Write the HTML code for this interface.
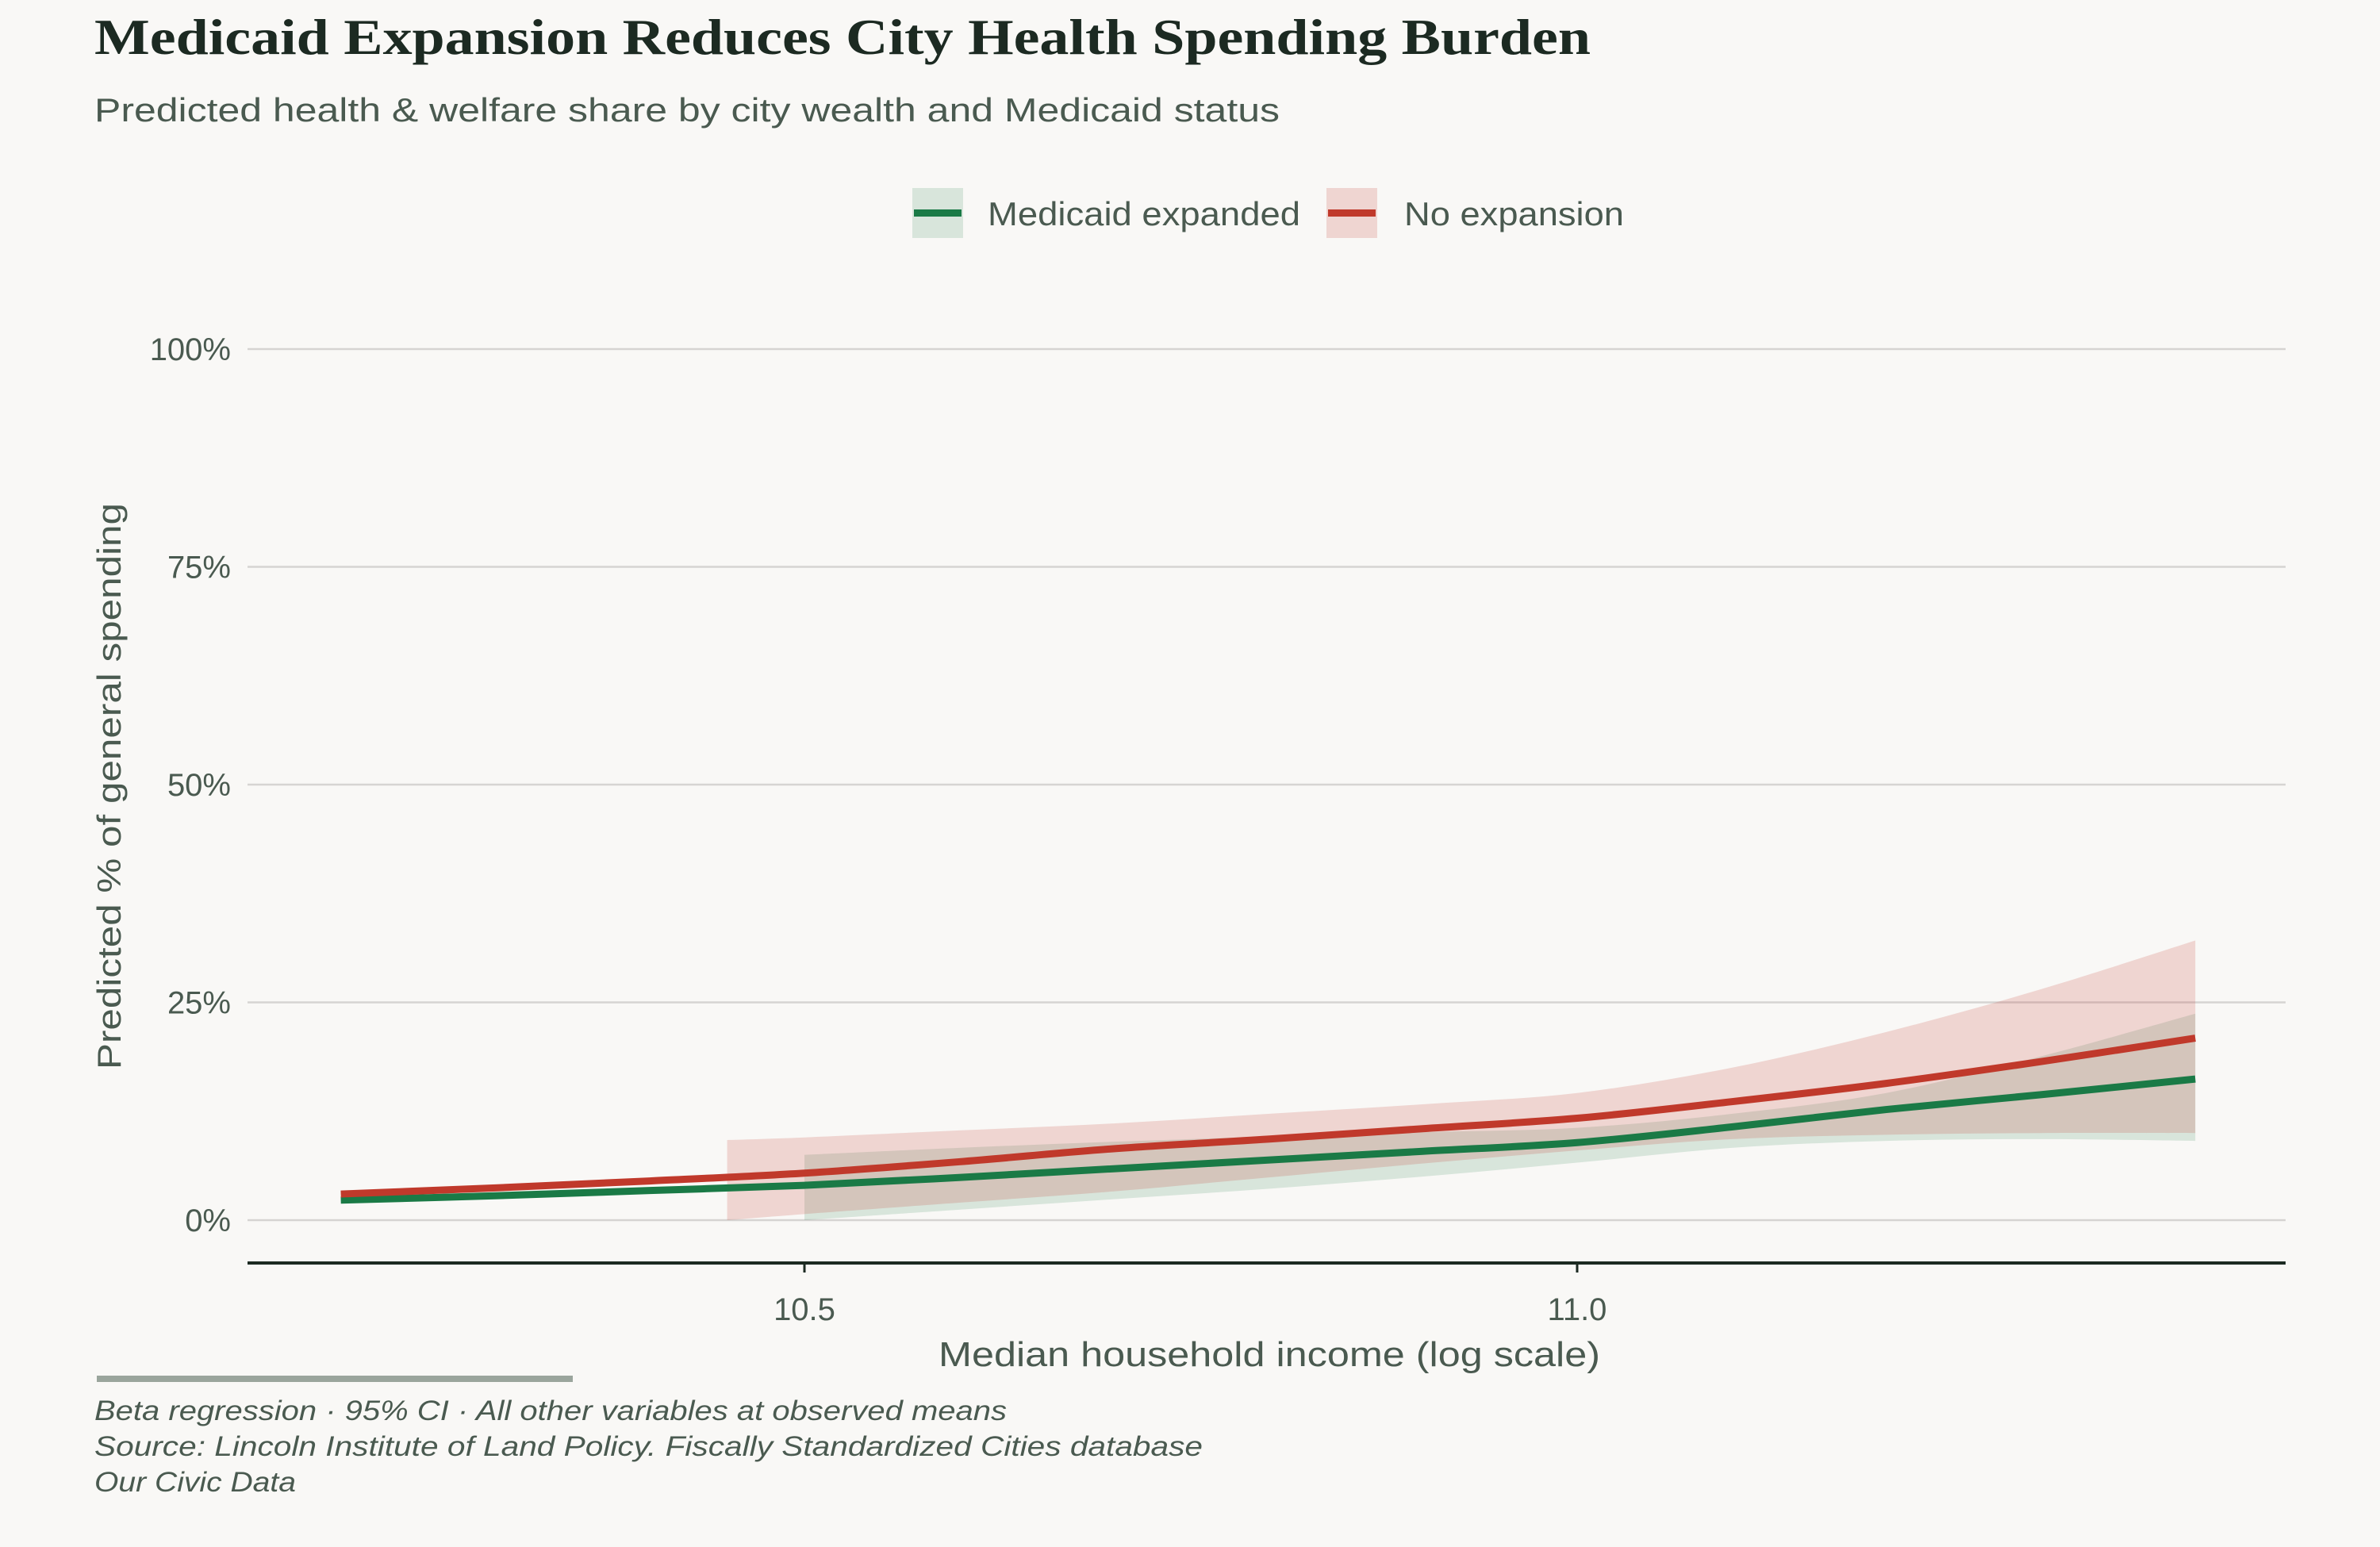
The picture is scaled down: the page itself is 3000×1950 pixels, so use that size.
<!DOCTYPE html>
<html><head><meta charset="utf-8"><style>
body{margin:0;background:#f9f8f6;}
svg{display:block;}
</style></head><body>
<svg width="3000" height="1950" viewBox="0 0 3000 1950" xmlns="http://www.w3.org/2000/svg">
<rect width="3000" height="1950" fill="#f9f8f6"/>
<text x="119" y="68" textLength="1886" lengthAdjust="spacingAndGlyphs" font-family="Liberation Serif, serif" font-weight="bold" font-size="64" fill="#1c2a22">Medicaid Expansion Reduces City Health Spending Burden</text>
<text x="119" y="153" textLength="1494" lengthAdjust="spacingAndGlyphs" font-family="Liberation Sans, sans-serif" font-size="42" fill="#4a5a50">Predicted health &amp; welfare share by city wealth and Medicaid status</text>
<g>
 <g>
  <rect x="1150" y="237" width="64" height="63" fill="#1a7a46" opacity="0.15"/>
  <rect x="1152" y="264" width="60" height="9" fill="#1a7a46"/>
  <text x="1245" y="284" textLength="394" lengthAdjust="spacingAndGlyphs" font-family="Liberation Sans, sans-serif" font-size="42" fill="#4a5a50">Medicaid expanded</text>
 </g>
 <g>
  <rect x="1672" y="237" width="64" height="63" fill="#c0392b" opacity="0.18"/>
  <rect x="1674" y="264" width="60" height="9" fill="#c0392b"/>
  <text x="1770" y="284" textLength="277" lengthAdjust="spacingAndGlyphs" font-family="Liberation Sans, sans-serif" font-size="42" fill="#4a5a50">No expansion</text>
 </g>
</g>
<g id="grid"></g><g id="bands"></g><g id="lines"></g><g id="axes"></g>
<text transform="translate(152,991) rotate(-90)" text-anchor="middle" textLength="714" lengthAdjust="spacingAndGlyphs" font-family="Liberation Sans, sans-serif" font-size="42" fill="#4a5a50">Predicted % of general spending</text>
<text x="1600" y="1722" text-anchor="middle" textLength="834" lengthAdjust="spacingAndGlyphs" font-family="Liberation Sans, sans-serif" font-size="44" fill="#4a5a50">Median household income (log scale)</text>
<rect x="122" y="1734" width="600" height="8" fill="#9aa59c"/>
<g font-family="Liberation Sans, sans-serif" font-style="italic" font-size="35" fill="#4a5a50">
<text x="119" y="1790" textLength="1150" lengthAdjust="spacingAndGlyphs">Beta regression · 95% CI · All other variables at observed means</text>
<text x="119" y="1835" textLength="1397" lengthAdjust="spacingAndGlyphs">Source: Lincoln Institute of Land Policy. Fiscally Standardized Cities database</text>
<text x="119" y="1880" textLength="254" lengthAdjust="spacingAndGlyphs">Our Civic Data</text>
</g>
</svg>
<script>
const yTicks=[0,25,50,75,100];
const yTickLabels=["0%","25%","50%","75%","100%"];
const xTicks=[10.5,11.0];
const xTickLabels=["10.5","11.0"];
const lineX=[10.2,10.3,10.4,10.5,10.6,10.7,10.8,10.9,11.0,11.1,11.2,11.3,11.4];
const redLine=[3.0,3.7,4.5,5.4,6.7,8.2,9.3,10.5,11.7,13.6,15.7,18.2,20.9];
const greenLine=[2.3,2.8,3.4,4.0,4.9,5.9,6.9,7.9,8.9,10.7,12.7,14.4,16.2];
const redBandX=[10.45,10.5,10.6,10.7,10.8,10.9,11.0,11.1,11.2,11.3,11.4];
const redUpper=[9.2,9.5,10.3,11.1,12.2,13.3,14.6,17.5,21.6,26.5,32.1];
const redLower=[0,0.7,2.0,3.3,4.9,6.5,8.0,9.3,9.8,10.0,10.0];
const greenBandX=[10.5,10.6,10.7,10.8,10.9,11.0,11.1,11.2,11.3,11.4];
const greenUpper=[7.5,8.3,9.0,9.6,10.1,10.6,12.2,14.6,18.8,23.7];
const greenLower=[0,1.2,2.4,3.6,5.0,6.6,8.3,9.1,9.3,9.1];

const NS="http://www.w3.org/2000/svg";
const xs=v=>1014+(v-10.5)*1948;
const ys=v=>1538-v*10.98;
function mk(tag,attrs,parent){const e=document.createElementNS(NS,tag);for(const k in attrs)e.setAttribute(k,attrs[k]);parent.appendChild(e);return e;}
const grid=document.getElementById('grid'),bands=document.getElementById('bands'),lines=document.getElementById('lines'),axes=document.getElementById('axes');
yTicks.forEach((t,i)=>{
 const l=mk('line',{x1:312,x2:2881,y1:ys(t),y2:ys(t),stroke:'#d6d4d2','stroke-width':2.5},grid);
 
 
 const tx=mk('text',{x:291,y:ys(t)+14,'text-anchor':'end','font-family':'Liberation Sans, sans-serif','font-size':40,fill:'#4a5a50'},axes);
 tx.textContent=yTickLabels[i];
 
 
});
const ax=mk('line',{x1:312,x2:2881,y1:1592,y2:1592,stroke:'#1c2a22','stroke-width':4},axes);


xTicks.forEach((t,i)=>{
 const tk=mk('line',{x1:xs(t),x2:xs(t),y1:1592,y2:1604,stroke:'#1c2a22','stroke-width':3},axes);
 
 
 const tx=mk('text',{x:xs(t),y:1664,'text-anchor':'middle','font-family':'Liberation Sans, sans-serif','font-size':40,fill:'#4a5a50'},axes);
 tx.textContent=xTickLabels[i];
 
 
});
function smooth(pts){
 let d='M'+pts[0][0]+','+pts[0][1];
 for(let i=0;i<pts.length-1;i++){
  const p0=pts[Math.max(i-1,0)],p1=pts[i],p2=pts[i+1],p3=pts[Math.min(i+2,pts.length-1)];
  const c1=[p1[0]+(p2[0]-p0[0])/6,p1[1]+(p2[1]-p0[1])/6];
  const c2=[p2[0]-(p3[0]-p1[0])/6,p2[1]-(p3[1]-p1[1])/6];
  d+='C'+c1+' '+c2+' '+p2;
 }
 return d;
}
function band(X,U,L,color,op,name){
 const up=X.map((x,i)=>[xs(x),ys(U[i])]);
 const lo=X.map((x,i)=>[xs(x),ys(L[i])]).reverse();
 const d=smooth(up)+'L'+smooth(lo).slice(1)+'Z';
 const p=mk('path',{d:d,fill:color,opacity:op},bands);
 
 
}
band(greenBandX,greenUpper,greenLower,'#1a7a46',0.15,'ci-band-expanded');
band(redBandX,redUpper,redLower,'#c0392b',0.18,'ci-band-no-expansion');
function line(X,Y,color,name){
 const p=mk('path',{d:smooth(X.map((x,i)=>[xs(x),ys(Y[i])])),fill:'none',stroke:color,'stroke-width':9,'stroke-linejoin':'round'},lines);
 
 
}
line(lineX,greenLine,'#1a7a46','line-expanded');
line(lineX,redLine,'#c0392b','line-no-expansion');
</script>
</body></html>
